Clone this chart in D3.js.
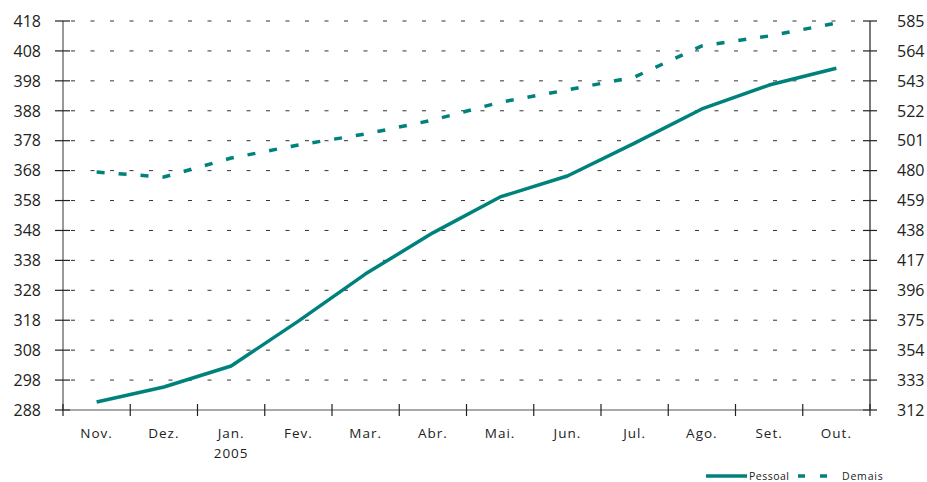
<!DOCTYPE html>
<html><head><meta charset="utf-8">
<script src="https://cdn.jsdelivr.net/npm/d3@7"></script>
<style>body{margin:0;background:#fff}svg{display:block}</style>
</head><body>
<script>
const months = ["Nov.","Dez.","Jan.","Fev.","Mar.","Abr.","Mai.","Jun.","Jul.","Ago.","Set.","Out."];
const subLabels = ["","","2005","","","","","","","","",""];
const pessoal = [290.7,295.7,302.7,317.7,333.5,347.2,359.2,366.2,377.2,388.6,396.6,402.2];
const demais = [479,475.5,488.8,498,505.7,515.5,528,536.6,545.7,567.5,574.5,583.6];
const leftTicks = [288,298,308,318,328,338,348,358,368,378,388,398,408,418];
const rightTicks = [312,333,354,375,396,417,438,459,480,501,522,543,564,585];
const seriesNames = ["Pessoal","Demais"];

const W=927,H=482, L=63, R=870, T=21, B=410;
const color="#00827c";
const svg=d3.select("body").append("svg").attr("width",W).attr("height",H);
const x=d3.scaleBand().domain(months).range([L,R]);
const yL=d3.scaleLinear().domain([288,418]).range([B,T]);
const yR=d3.scaleLinear().domain([312,585]).range([B,T]);
const font="'Open Sans', sans-serif";

// gridlines
svg.append("g").selectAll("line").data(leftTicks.slice(1)).join("line")
  .attr("x1",L+8).attr("x2",R).attr("y1",d=>yL(d)).attr("y2",d=>yL(d))
  .attr("stroke","#333").attr("stroke-width",1).attr("stroke-dasharray","4,15.5");

// left axis
const gl=svg.append("g").attr("transform",`translate(${L},0)`);
gl.append("line").attr("y1",T).attr("y2",B).attr("stroke","#777").attr("stroke-width",1.5);
gl.selectAll("line.t").data(leftTicks).join("line").attr("class","t")
  .attr("x1",-8).attr("x2",7).attr("y1",d=>yL(d)).attr("y2",d=>yL(d)).attr("stroke","#222").attr("stroke-width",1.2);
gl.selectAll("text").data(leftTicks).join("text")
  .attr("x",-22).attr("y",d=>yL(d)).attr("dy","0.36em").attr("text-anchor","end")
  .attr("font-family",font).attr("font-size",16).attr("fill","#222").text(d=>d);

// right axis
const gr=svg.append("g").attr("transform",`translate(${R},0)`);
gr.append("line").attr("y1",T).attr("y2",B).attr("stroke","#222").attr("stroke-width",1.2);
gr.selectAll("line.t").data(rightTicks).join("line").attr("class","t")
  .attr("x1",-7).attr("x2",7).attr("y1",d=>yR(d)).attr("y2",d=>yR(d)).attr("stroke","#222").attr("stroke-width",1.2);
gr.selectAll("text").data(rightTicks).join("text")
  .attr("x",27).attr("y",d=>yR(d)).attr("dy","0.36em").attr("text-anchor","start")
  .attr("font-family",font).attr("font-size",16).attr("fill","#222").text(d=>d);

// x axis
const gx=svg.append("g");
gx.append("line").attr("x1",L).attr("x2",R).attr("y1",B).attr("y2",B).attr("stroke","#555").attr("stroke-width",1.2);
const bounds=months.map(m=>x(m)).concat([R]);
gx.selectAll("line.t").data(bounds).join("line").attr("class","t")
  .attr("x1",d=>d).attr("x2",d=>d).attr("y1",B-6).attr("y2",B+6).attr("stroke","#222").attr("stroke-width",1.2);
gx.selectAll("text.m").data(months).join("text").attr("class","m")
  .attr("x",d=>x(d)+x.bandwidth()/2).attr("y",438).attr("text-anchor","middle")
  .attr("font-family",font).attr("font-size",13.5).attr("letter-spacing",1).attr("fill","#222").text(d=>d);
gx.selectAll("text.s").data(months.map((m,i)=>[m,subLabels[i]]).filter(d=>d[1])).join("text").attr("class","s")
  .attr("x",d=>x(d[0])+x.bandwidth()/2).attr("y",458).attr("text-anchor","middle")
  .attr("font-family",font).attr("font-size",13.5).attr("letter-spacing",1).attr("fill","#222").text(d=>d[1]);

// lines
const cx=(m)=>x(m)+x.bandwidth()/2;
svg.append("path").datum(pessoal).attr("fill","none").attr("stroke",color).attr("stroke-width",3.5)
  .attr("stroke-linejoin","round")
  .attr("d",d3.line().x((d,i)=>cx(months[i])).y(d=>yL(d)));
svg.append("path").datum(demais).attr("fill","none").attr("stroke",color).attr("stroke-width",3.5)
  .attr("stroke-dasharray","8,14")
  .attr("d",d3.line().x((d,i)=>cx(months[i])).y(d=>yR(d)));

// legend
const lg=svg.append("g");
lg.append("line").attr("x1",706).attr("x2",747).attr("y1",476).attr("y2",476).attr("stroke",color).attr("stroke-width",3.5);
lg.append("text").attr("x",749).attr("y",476).attr("dy","0.35em").attr("font-family",font).attr("font-size",10.5).attr("letter-spacing",0.5).attr("fill","#222").text(seriesNames[0]);
lg.append("line").attr("x1",798).attr("x2",829).attr("y1",476).attr("y2",476).attr("stroke",color).attr("stroke-width",3.5).attr("stroke-dasharray","7,15");
lg.append("text").attr("x",842).attr("y",476).attr("dy","0.35em").attr("font-family",font).attr("font-size",10.5).attr("letter-spacing",0.8).attr("fill","#222").text(seriesNames[1]);
</script>
</body></html>
